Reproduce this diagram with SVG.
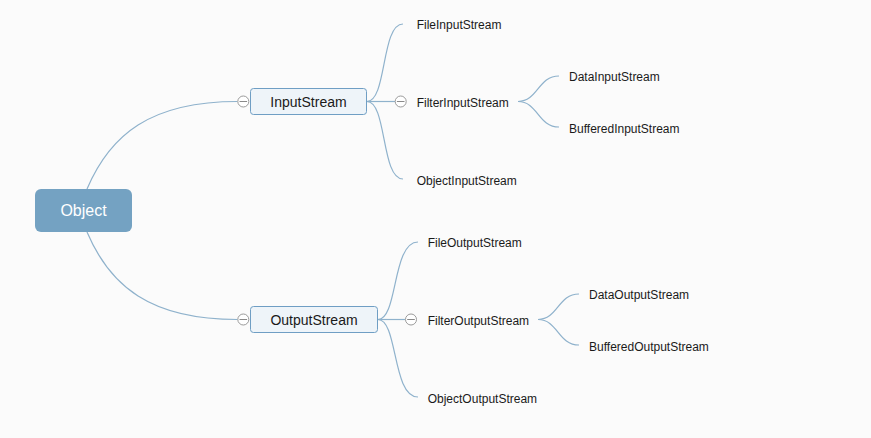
<svg xmlns="http://www.w3.org/2000/svg" width="871" height="438" viewBox="0 0 871 438">
<style>
.bg{fill:#fbfbfb}
.link{fill:none;stroke:#8fb2cc;stroke-width:1.2}
.root rect{fill:#74a2c2}
.root text{font-family:"Liberation Sans",Arial,sans-serif;font-size:16px;fill:#ffffff;text-anchor:middle}
.main rect{fill:#eef4f9;stroke:#6f9ec4;stroke-width:1}
.main text{font-family:"Liberation Sans",Arial,sans-serif;font-size:14px;fill:#1a1a1a;text-anchor:middle}
.leaf text{font-family:"Liberation Sans",Arial,sans-serif;font-size:12px;fill:#1a1a1a}
.tog circle{fill:#ffffff;stroke:#9a9a9a;stroke-width:1}
.tog line{stroke:#8a8a8a;stroke-width:1}
</style>
<rect class="bg" x="0" y="0" width="871" height="438"/>
<g id="connectors">
<path class="link" d="M87,189 C110,135 150,101.5 237.5,101.5"/>
<path class="link" d="M87,232 C110,286 150,319.5 237.5,319.5"/>
<path class="link" d="M367,101.5 C387,101.5 381,24 403,24"/>
<path class="link" d="M367,101.5 L395,101.5"/>
<path class="link" d="M367,101.5 C387,101.5 381,179 403,179"/>
<path class="link" d="M518,101.5 C538,101.5 538,76 559,76"/>
<path class="link" d="M518,101.5 C538,101.5 538,127 559,127"/>
<path class="link" d="M378,319.5 C398,319.5 392,242 418,242"/>
<path class="link" d="M378,319.5 L405,319.5"/>
<path class="link" d="M378,319.5 C398,319.5 392,397 418,397"/>
<path class="link" d="M538,319.5 C558,319.5 558,294 579,294"/>
<path class="link" d="M538,319.5 C558,319.5 558,345 579,345"/>
</g>
<g id="Object" class="root">
<rect x="35" y="189" width="97" height="43" rx="6"/>
<text x="83.5" y="216.2">Object</text>
</g>
<g id="InputStream" class="main">
<rect x="250.5" y="88.5" width="116" height="26" rx="3"/>
<text x="308.5" y="106.5">InputStream</text>
</g>
<g id="InputStream-toggle" class="tog">
<circle cx="243.3" cy="101.5" r="5.5"/>
<line x1="239.5" y1="101.5" x2="247.1" y2="101.5"/>
</g>
<g id="OutputStream" class="main">
<rect x="250.5" y="306.5" width="127" height="26" rx="3"/>
<text x="314" y="324.5">OutputStream</text>
</g>
<g id="OutputStream-toggle" class="tog">
<circle cx="243.3" cy="319.5" r="5.5"/>
<line x1="239.5" y1="319.5" x2="247.1" y2="319.5"/>
</g>
<g id="FileInputStream" class="leaf"><text x="416.7" y="28.5">FileInputStream</text></g>
<g id="FilterInputStream" class="leaf"><text x="416.7" y="106.5">FilterInputStream</text></g>
<g id="FilterInputStream-toggle" class="tog">
<circle cx="400.7" cy="101.5" r="5.5"/>
<line x1="396.9" y1="101.5" x2="404.5" y2="101.5"/>
</g>
<g id="ObjectInputStream" class="leaf"><text x="416.7" y="184.5">ObjectInputStream</text></g>
<g id="DataInputStream" class="leaf"><text x="569" y="80.5">DataInputStream</text></g>
<g id="BufferedInputStream" class="leaf"><text x="569" y="132.5">BufferedInputStream</text></g>
<g id="FileOutputStream" class="leaf"><text x="427.7" y="246.8">FileOutputStream</text></g>
<g id="FilterOutputStream" class="leaf"><text x="427.7" y="324.8">FilterOutputStream</text></g>
<g id="FilterOutputStream-toggle" class="tog">
<circle cx="411" cy="319.5" r="5.5"/>
<line x1="407.2" y1="319.5" x2="414.8" y2="319.5"/>
</g>
<g id="ObjectOutputStream" class="leaf"><text x="427.7" y="402.8">ObjectOutputStream</text></g>
<g id="DataOutputStream" class="leaf"><text x="589" y="298.8">DataOutputStream</text></g>
<g id="BufferedOutputStream" class="leaf"><text x="589" y="350.8">BufferedOutputStream</text></g>
</svg>
